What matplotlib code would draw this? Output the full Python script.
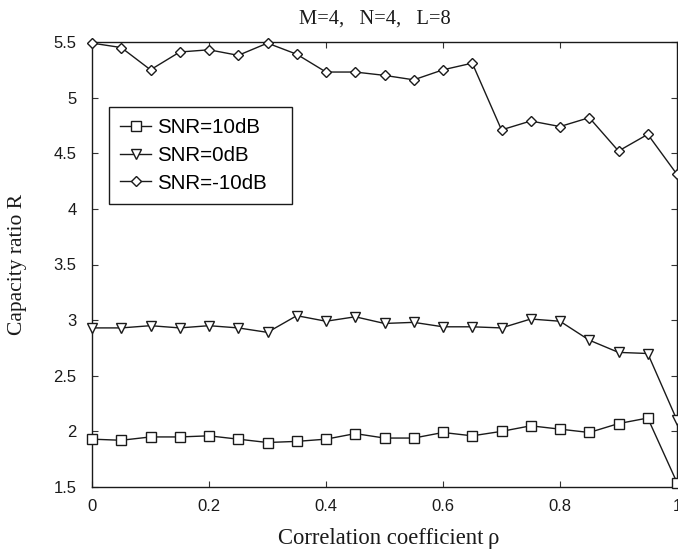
import matplotlib
matplotlib.use("Agg")
import matplotlib.pyplot as plt
import numpy as np

rho = [0.0, 0.05, 0.1, 0.15, 0.2, 0.25, 0.3, 0.35, 0.4, 0.45, 0.5,
       0.55, 0.6, 0.65, 0.7, 0.75, 0.8, 0.85, 0.9, 0.95, 1.0]

snr_10 = [1.93, 1.92, 1.95, 1.95, 1.96, 1.93, 1.90, 1.91, 1.93, 1.98, 1.94,
          1.94, 1.99, 1.96, 2.00, 2.05, 2.02, 1.99, 2.07, 2.12, 1.54]
snr_0 = [2.93, 2.93, 2.95, 2.93, 2.95, 2.93, 2.89, 3.04, 2.99, 3.03, 2.97,
         2.98, 2.94, 2.94, 2.93, 3.01, 2.99, 2.82, 2.71, 2.70, 2.10]
snr_m10 = [5.49, 5.45, 5.25, 5.41, 5.43, 5.38, 5.49, 5.39, 5.23, 5.23, 5.20,
           5.16, 5.25, 5.31, 4.71, 4.79, 4.74, 4.82, 4.52, 4.67, 4.31]

labels = ["SNR=10dB", "SNR=0dB", "SNR=-10dB"]
xticks = [0, 0.2, 0.4, 0.6, 0.8, 1]
xticklabels = ["0", "0.2", "0.4", "0.6", "0.8", "1"]
yticks = [1.5, 2, 2.5, 3, 3.5, 4, 4.5, 5, 5.5]
yticklabels = ["1.5", "2", "2.5", "3", "3.5", "4", "4.5", "5", "5.5"]

W, H = 678, 554
fig = plt.figure(figsize=(W / 100, H / 100), dpi=100)
ax = fig.add_axes([92 / W, 1 - 487 / H, (677 - 92) / W, (487 - 42) / H])

lc = "#1a1a1a"
common = dict(color=lc, lw=1.0, markerfacecolor="white", markeredgecolor=lc,
              markeredgewidth=1.0, clip_on=False, zorder=3)
ax.plot(rho, snr_10, marker="s", ms=6.5, label=labels[0], **common)
ax.plot(rho, snr_0, marker="v", ms=7.8, label=labels[1], **common)
ax.plot(rho, snr_m10, marker="D", ms=5.4, label=labels[2], **common)

ax.set_xlim(0, 1)
ax.set_ylim(1.5, 5.5)
ax.set_xticks(xticks)
ax.set_xticklabels(xticklabels)
ax.set_yticks(yticks)
ax.set_yticklabels(yticklabels)

sans = ["Liberation Sans", "DejaVu Sans"]
serif = ["Liberation Serif", "DejaVu Serif"]
for lab in ax.get_xticklabels() + ax.get_yticklabels():
    lab.set_fontfamily(sans)
    lab.set_fontsize(12)
    lab.set_color("#1a1a1a")

ax.tick_params(direction="in", length=4, width=0.8, top=True, right=True,
               color="#333333")
ax.tick_params(axis="y", pad=11)
ax.tick_params(axis="x", pad=8.5)
for s in ax.spines.values():
    s.set_linewidth(1.0)
    s.set_color("#1a1a1a")

ax.set_title("M=4,   N=4,   L=8", family=serif, fontsize=14.8, pad=13,
             color="#1a1a1a", x=0.484)
ax.set_xlabel("Correlation coefficient\u2009\u03c1", family=serif, fontsize=16.3,
              labelpad=10, color="#1a1a1a", x=0.508)
ax.set_ylabel("Capacity ratio R", family=serif, fontsize=15.5, labelpad=19,
              color="#1a1a1a")

leg = ax.legend(loc="upper left", bbox_to_anchor=(0.029, 0.640, 0.313, 0.214),
                mode="expand", borderaxespad=0, numpoints=1, fancybox=False,
                prop={"family": sans, "size": 14.8}, handlelength=1.5,
                handletextpad=0.3, labelspacing=0.42, borderpad=0.55,
                framealpha=1)
leg.get_frame().set_edgecolor("#1a1a1a")
leg.get_frame().set_linewidth(1.0)

fig.savefig("out.png", dpi=100)
